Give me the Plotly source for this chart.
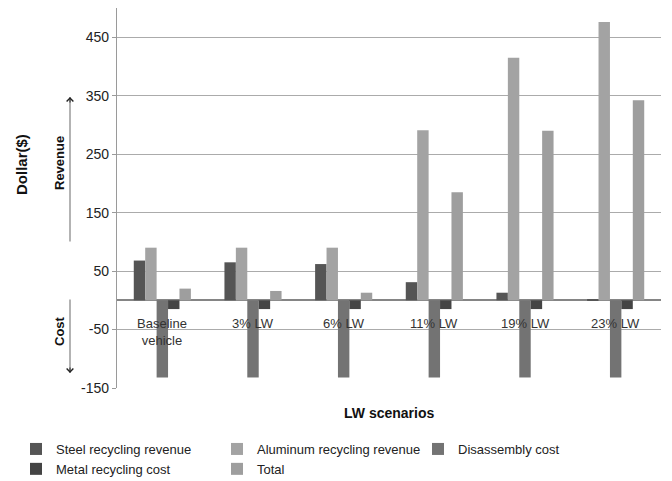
import plotly.graph_objects as go

# Lightweighting scenarios and their end-of-life economics (US$)
scenarios = ["Baseline<br>vehicle", "3% LW", "6% LW", "11% LW", "19% LW", "23% LW"]
steel_revenue = [68, 65, 62, 31, 13, 2]
aluminum_revenue = [90, 90, 90, 291, 415, 476]
disassembly_cost = [-132, -132, -132, -132, -132, -132]
metal_recycling_cost = [-15, -15, -15, -15, -15, -15]
total = [20, 16, 13, 185, 290, 342]

y_ticks = [-150, -50, 50, 150, 250, 350, 450]

series = [
    ("Steel recycling revenue", steel_revenue, "#555555"),
    ("Aluminum recycling revenue", aluminum_revenue, "#a3a3a3"),
    ("Disassembly cost", disassembly_cost, "#737373"),
    ("Metal recycling cost", metal_recycling_cost, "#444444"),
    ("Total", total, "#9e9e9e"),
]

FONT = "Liberation Sans, Arial, sans-serif"
W, H = 672, 481

fig = go.Figure()
for name, vals, color in series:
    fig.add_trace(go.Bar(
        x=list(range(len(scenarios))), y=vals, name=name,
        marker=dict(color=color, line=dict(width=0)),
    ))

# Category labels sit just under the zero line, as in a spreadsheet chart
annotations = []
for i, lab in enumerate(scenarios):
    annotations.append(dict(
        x=i, y=0, xref="x", yref="y", text=lab, showarrow=False,
        yanchor="top", yshift=-14, font=dict(family=FONT, size=13, color="#333333"),
    ))

# Plot area in pixels: x 117..661, y 8..388
def px_x(px):
    return (px - 117) / 544.0

def px_y(py):
    return (388 - py) / 380.0

annotations += [
    dict(x=px_x(22), y=px_y(165), xref="paper", yref="paper", text="<b>Dollar($)</b>",
         textangle=-90, showarrow=False, xanchor="center", yanchor="middle",
         font=dict(family=FONT, size=15, color="#111111")),
    dict(x=px_x(59), y=px_y(163), xref="paper", yref="paper", text="<b>Revenue</b>",
         textangle=-90, showarrow=False, xanchor="center", yanchor="middle",
         font=dict(family=FONT, size=13, color="#111111")),
    dict(x=px_x(59), y=px_y(331), xref="paper", yref="paper", text="<b>Cost</b>",
         textangle=-90, showarrow=False, xanchor="center", yanchor="middle",
         font=dict(family=FONT, size=13, color="#111111")),
    dict(x=0.5, y=px_y(413), xref="paper", yref="paper", text="<b>LW scenarios</b>",
         showarrow=False, xanchor="center", yanchor="middle",
         font=dict(family=FONT, size=14, color="#111111")),
]

# Revenue / cost direction arrows: grey shaft with a dark head
arrow_x = px_x(70)
for head, tail in [(97, 243), (373, 298)]:
    annotations.append(dict(
        x=arrow_x, y=px_y(head), xref="paper", yref="paper",
        ax=0, ay=tail - head,
        text="", showarrow=True, arrowhead=0, arrowwidth=1.5, arrowcolor="#9a9a9a",
    ))
    d = 1 if tail > head else -1
    annotations.append(dict(
        x=arrow_x, y=px_y(head), xref="paper", yref="paper",
        ax=0, ay=d * 7, text="", showarrow=True, arrowhead=4, arrowsize=1.3,
        arrowwidth=1, arrowcolor="#222222",
    ))

fig.update_layout(
    width=W, height=H,
    margin=dict(l=117, r=11, t=8, b=93, autoexpand=False),
    paper_bgcolor="white", plot_bgcolor="white",
    barmode="group", bargap=0.37, bargroupgap=0,
    font=dict(family=FONT, size=13, color="#222222"),
    showlegend=True,
    legend=dict(
        orientation="h", xref="paper", yref="paper",
        x=px_x(16), xanchor="left", y=px_y(434), yanchor="top",
        entrywidth=156, entrywidthmode="pixels", traceorder="normal",
        font=dict(family=FONT, size=13, color="#222222"), itemwidth=30,
        bgcolor="rgba(0,0,0,0)", tracegroupgap=0,
    ),
    annotations=annotations,
    xaxis=dict(
        range=[-0.5, 5.5], showticklabels=False, showgrid=False, zeroline=False,
        showline=False, ticks="", fixedrange=True,
    ),
    yaxis=dict(
        range=[-150, 500], tickvals=y_ticks, ticktext=[str(v) for v in y_ticks],
        showgrid=True, gridcolor="#ababab", gridwidth=1.3,
        zeroline=True, zerolinecolor="#858585", zerolinewidth=2,
        showline=True, linecolor="#9a9a9a", linewidth=1.3,
        ticks="outside", ticklen=4, tickcolor="#9a9a9a",
        tickfont=dict(family=FONT, size=14, color="#222222"),
    ),
)

fig.write_html("out.html")
